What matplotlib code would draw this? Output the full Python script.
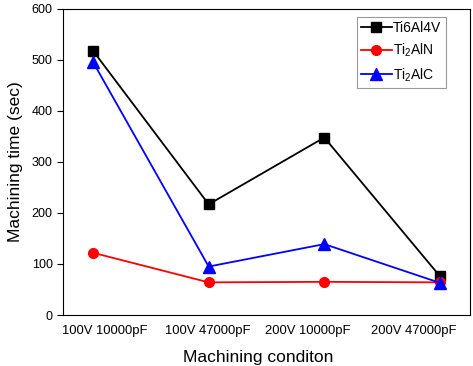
import matplotlib
matplotlib.use("Agg")
import matplotlib.pyplot as plt
import numpy as np

plt.rcParams['font.family'] = ['Liberation Sans', 'DejaVu Sans']
plt.rcParams['mathtext.fontset'] = 'custom'
plt.rcParams['mathtext.rm'] = 'Liberation Sans'
plt.rcParams['mathtext.it'] = 'Liberation Sans'

conditions = ["100V 10000pF", "100V 47000pF", "200V 10000pF", "200V 47000pF"]
ti6al4v = [518, 217, 348, 76]
ti2aln = [122, 64, 65, 64]
ti2alc = [496, 95, 139, 63]

x = np.arange(len(conditions))
# in the original the category labels sit a bit off the data points
label_pos = [0.10, 0.99, 1.86, 2.77]

fig = plt.figure(figsize=(4.73, 3.66), dpi=100)
ax = fig.add_axes([63 / 473, 51 / 366, 407 / 473, 306 / 366])

ax.plot(x, ti6al4v, color="black", marker="s", markersize=7, lw=1.3, label="Ti6Al4V")
ax.plot(x, ti2aln, color="red", marker="o", markersize=7, lw=1.3, label="Ti$_2$AlN")
ax.plot(x, ti2alc, color="blue", marker="^", markersize=8, lw=1.3, label="Ti$_2$AlC")

ax.set_xlim(-0.26, 3.26)
ax.set_ylim(0, 600)
ax.set_yticks([0, 100, 200, 300, 400, 500, 600])
ax.set_xticks(label_pos)
ax.set_xticklabels(conditions)
ax.tick_params(axis="y", direction="out", length=4, labelsize=9)
ax.tick_params(axis="x", length=0, labelsize=9.4, pad=7)
ax.set_xlabel("Machining conditon", fontsize=12.5)
ax.xaxis.set_label_coords(0.48, -0.115)
ax.set_ylabel("Machining time (sec)", fontsize=12.5, labelpad=6)

leg = ax.legend(loc="upper right", fontsize=10, fancybox=False, edgecolor="gray",
                handlelength=2.2, handletextpad=0.1, borderpad=0.3, labelspacing=0.5,
                borderaxespad=0, bbox_to_anchor=(0.94, 0.975))
leg.get_frame().set_linewidth(0.8)

plt.savefig("out.png", dpi=100)
